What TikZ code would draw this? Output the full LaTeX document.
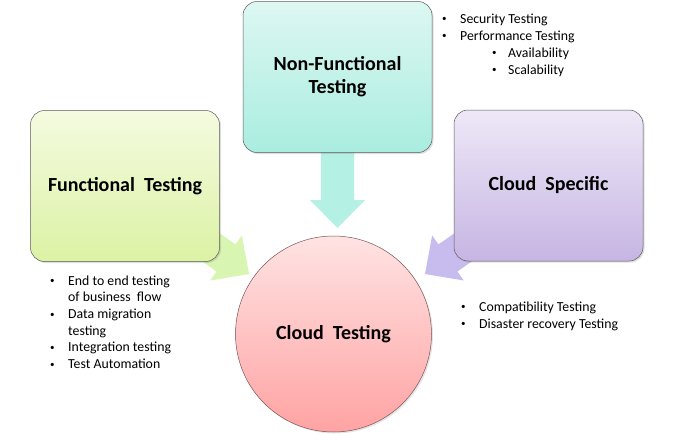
\documentclass[tikz,border=0pt]{standalone}
\usepackage{fontspec}
\setmainfont{Carlito}
\usetikzlibrary{shadows}
\definecolor{funcTop}{HTML}{F4FBE0}
\definecolor{funcBot}{HTML}{DCF2A4}
\definecolor{nfTop}{HTML}{DDF7F2}
\definecolor{nfBot}{HTML}{A9EDE0}
\definecolor{csTop}{HTML}{EEE8F7}
\definecolor{csBot}{HTML}{C6B5E3}
\definecolor{ctTop}{HTML}{FFE3E3}
\definecolor{ctBot}{HTML}{FFA3A3}
\definecolor{arrGreen}{HTML}{D8F5B2}
\definecolor{arrTeal}{HTML}{B5F0E5}
\definecolor{arrPurple}{HTML}{C8BCEE}
\definecolor{boxline}{HTML}{5A5A5A}
\definecolor{circline}{HTML}{7A5555}
\newcommand{\bul}[1]{\makebox[#1][l]{\hspace{2pt}\fontsize{9}{9}\selectfont\raisebox{0.25ex}{•}}}
\begin{document}
\begin{tikzpicture}[x=1pt,y=-1pt,
  box/.style={rectangle, rounded corners=14pt, draw=boxline, line width=0.5pt,
    minimum width=189pt, minimum height=151pt, inner sep=0pt,
    font=\fontsize{20}{23}\selectfont\bfseries, align=center,
    drop shadow={opacity=0.25, shadow xshift=1.5pt, shadow yshift=-1.5pt}},
  item/.style={anchor=base west, inner sep=0pt, font=\fontsize{13.8}{16}\selectfont},
  barrow/.pic={\path[pic actions] (-95,-16.5)--(-28,-16.5)--(-28,-27.5)--(0,0)--(-28,27.5)--(-28,16.5)--(-95,16.5)--cycle;}
]
\useasboundingbox (0,0) rectangle (678,442);
\fill[white] (0,0) rectangle (678,442);

% block arrows (drawn first, boxes cover their tails)
\pic[rotate=-35, fill=arrGreen] at (249,274) {barrow};
\pic[rotate=-90, fill=arrTeal] at (337.5,228) {barrow};
\pic[rotate=-145, fill=arrPurple] at (425,274) {barrow};

% boxes
\node[box, top color=funcTop, bottom color=funcBot] (func) at (125,186) {Functional~ Testing};
\node[box, top color=nfTop, bottom color=nfBot] (nonfunc) at (337.5,77) {Non-Functional\\Testing};
\node[box, top color=csTop, bottom color=csBot] (cloudspec) at (548.5,185.5) {Cloud~ Specific};
\node[circle, draw=circline, line width=0.5pt, minimum size=196pt, inner sep=0pt,
  top color=ctTop, bottom color=ctBot, font=\fontsize{20}{23}\selectfont\bfseries,
  drop shadow={opacity=0.2, shadow xshift=1.5pt, shadow yshift=-1.5pt}] (cloudtest) at (333.5,334) {Cloud~ Testing};

% non-functional list
\node[item] (nf1) at (440,23) {\bul{20pt}Security Testing};
\node[item] (nf2) at (440,40) {\bul{20pt}Performance Testing};
\node[item] (nf3) at (490,57) {\bul{18pt}Availability};
\node[item] (nf4) at (490,74) {\bul{18pt}Scalability};

% functional list
\node[item] (f1) at (48,285) {\bul{20pt}End to end testing};
\node[item] (f2) at (68,301.7) {of business~ flow};
\node[item] (f3) at (48,318.4) {\bul{20pt}Data migration};
\node[item] (f4) at (68,335.1) {testing};
\node[item] (f5) at (48,351.8) {\bul{20pt}Integration testing};
\node[item] (f6) at (48,368.5) {\bul{20pt}Test Automation};

% cloud specific list
\node[item] (c1) at (459,311) {\bul{20pt}Compatibility Testing};
\node[item] (c2) at (459,328) {\bul{20pt}Disaster recovery Testing};
\end{tikzpicture}
\end{document}
